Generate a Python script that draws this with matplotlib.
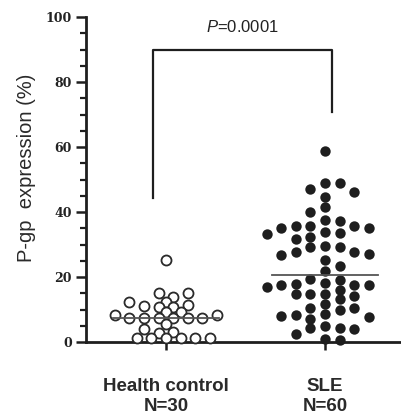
import numpy as np
import matplotlib
matplotlib.use("Agg")
import matplotlib.pyplot as plt
from matplotlib.ticker import MultipleLocator

plt.rcParams['font.family'] = ['Liberation Sans', 'DejaVu Sans']
plt.rcParams['mathtext.fontset'] = 'custom'
plt.rcParams['mathtext.it'] = 'Liberation Sans:italic'
plt.rcParams['mathtext.rm'] = 'Liberation Sans'

# values (%)
groups = ["Health control\nN=30", "SLE\nN=60"]
hc_values = [25.2, 15.2, 15.2, 13.9, 12.2, 12.2, 11.4, 11.2, 10.7, 10.7,
             9.1, 9.1, 8.3, 8.3, 7.3, 7.3, 7.3, 7.3, 7.3, 7.3,
             5.5, 4.0, 3.2, 2.7, 1.2, 1.2, 1.2, 1.2, 1.2, 1.2]
sle_values = [58.9, 49.0, 48.8, 47.1, 46.3, 44.7, 41.6, 39.9, 37.3, 37.5,
              35.2, 35.7, 35.7, 35.7, 35.2, 33.9, 33.1, 32.4, 33.4, 31.7,
              29.5, 29.3, 29.3, 27.8, 27.0, 27.6, 26.8, 25.2, 23.4, 21.8,
              19.3, 19.1, 18.2, 18.0, 17.5, 17.5, 17.5, 17.0, 16.0, 14.8,
              14.8, 14.8, 14.2, 13.1, 11.7, 10.4, 10.4, 9.8, 8.6, 8.3,
              8.0, 7.8, 7.0, 4.9, 4.2, 4.2, 3.9, 2.4, 0.8, 0.6]
p_label = "$\\mathit{P}$=0.0001"
bracket_y = (44.3, 90.0, 70.9)  # left leg end, top, right leg end

W, H = 401, 416
fig = plt.figure(figsize=(W / 100, H / 100), dpi=100)
ax = fig.add_axes([86 / W, 74 / H, 315 / W, 325 / H])
ax.set_xlim(0.497, 2.478)
ax.set_ylim(0, 100)

# pixel scale of data units, for laying out the swarm
x0, y0 = ax.transData.transform((0, 0))
x1, y1 = ax.transData.transform((1, 1))
ppx, ppy = x1 - x0, y1 - y0


def swarm(values, center, step=7.3, dmin=8.6, rx=14.0, ry=0.0, descending=False):
    # greedy column layout (px): a slot is taken if a placed point is closer
    # than dmin, or inside the rx/ry box
    values = np.asarray(values, dtype=float)
    xs = np.zeros(len(values))
    placed = []
    flip = 1
    order = np.argsort(-values if descending else values, kind='stable')
    for i in order:
        y = values[i] * ppy
        cands = [0]
        for j in range(1, 20):
            cands += [flip * j, -flip * j]
        for c in cands:
            dx = c * step
            if all(np.hypot(dx - px, y - py) >= dmin and
                   (abs(dx - px) >= rx or abs(y - py) >= ry) for px, py in placed):
                break
        if dx != 0:
            flip = -flip
        placed.append((dx, y))
        xs[i] = center + dx / ppx
    return xs


ink = '#1e1e1e'
hc_x = swarm(hc_values, 1, dmin=8.6)
sle_x = swarm(sle_values, 2, ry=8.8, descending=True)
ax.scatter(hc_x, hc_values, s=52, facecolors='white', edgecolors='#2a2a2a',
           linewidths=1.3, zorder=3, clip_on=False)
ax.scatter(sle_x, sle_values, s=56, color=ink, linewidths=0, zorder=3, clip_on=False)

# median lines
for xc, vals in ((1, hc_values), (2, sle_values)):
    m = np.median(vals)
    ax.plot([xc - 0.335, xc + 0.335], [m, m], color='#555555', lw=1.3, zorder=4)

# significance bracket
bl, bt, br = bracket_y
ax.plot([0.916, 0.916, 2.042, 2.042], [bl, bt, bt, br], color=ink, lw=1.6,
        clip_on=False, zorder=2)
ax.text((0.916 + 2.042) / 2, 95.5, p_label, ha='center', va='baseline',
        fontsize=12, color='#222222')

for side in ('top', 'right'):
    ax.spines[side].set_visible(False)
for side in ('left', 'bottom'):
    ax.spines[side].set_linewidth(2.0)
    ax.spines[side].set_color(ink)

ax.yaxis.set_major_locator(MultipleLocator(20))
ax.yaxis.set_minor_locator(MultipleLocator(5))
ax.tick_params(axis='y', which='major', length=7, width=1.8, color=ink, pad=3)
ax.tick_params(axis='y', which='minor', length=4, width=1.6, color=ink)
for lab in ax.get_yticklabels():
    lab.set_fontfamily('DejaVu Serif')
    lab.set_fontweight('bold')
    lab.set_fontsize(9)
    lab.set_color('#222222')

ax.set_xticks([1, 2])
ax.set_xticklabels(groups, fontsize=13.5, fontweight='bold', color='#2a2a2a',
                   linespacing=1.2)
ax.tick_params(axis='x', length=6, width=1.8, color=ink, pad=20)

ax.set_ylabel("P-gp  expression (%)", fontsize=14.5, color='#2a2a2a')
ax.yaxis.label.set_verticalalignment('center')
ax.yaxis.set_label_coords((27 - 86) / 315, (342 - 168) / 325)

fig.savefig("out.png", dpi=100)
